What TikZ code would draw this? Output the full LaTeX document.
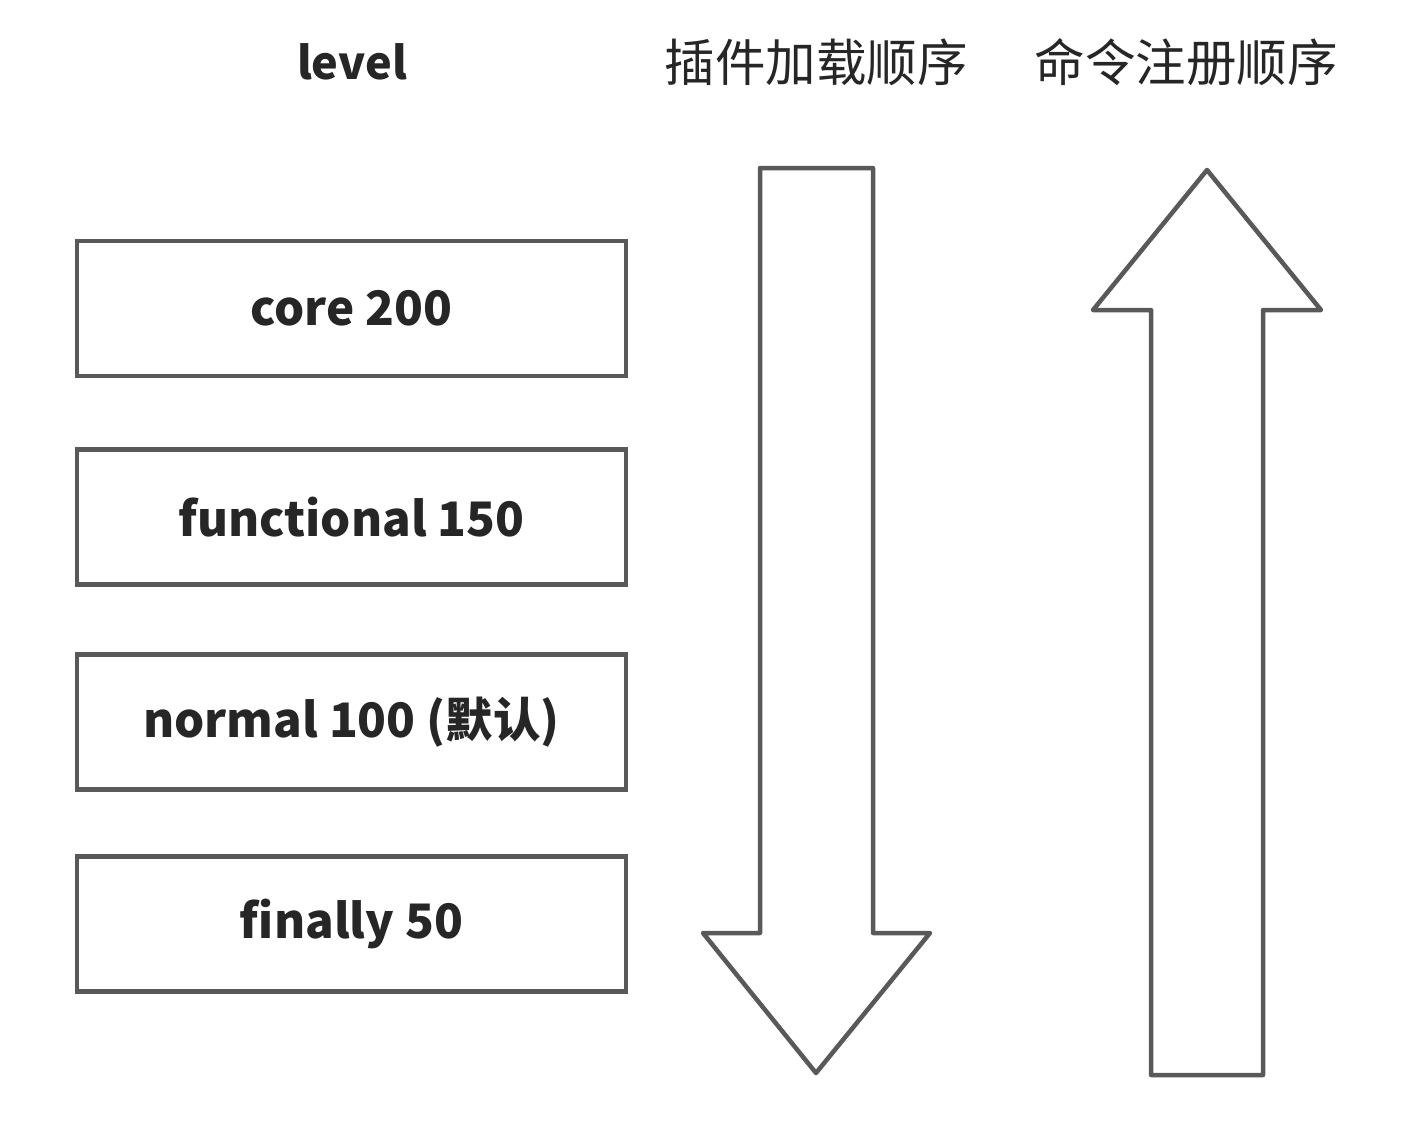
\documentclass[tikz,border=0pt]{standalone}
\usepackage{fontspec}
\setmainfont{Noto Sans CJK SC}
\definecolor{lg}{HTML}{595959}
\definecolor{tx}{HTML}{262626}
\begin{document}
\begin{tikzpicture}[x=1pt,y=-1pt,
  lvbox/.style={draw=lg,line width=4.5pt,minimum width=549pt,minimum height=135pt,inner sep=0pt,
    text=tx,font=\fontsize{47.5}{54}\selectfont\bfseries},
  title/.style={text=tx,inner sep=0pt},
  bigarrow/.style={draw=lg,line width=4.5pt,line join=round,fill=white}]
\useasboundingbox (0,0) rectangle (1406,1122);
\fill[white] (0,0) rectangle (1406,1122);
\node[title,font=\fontsize{45}{50}\selectfont\bfseries] (lvl) at (352,62) {level};
\node[title,font=\fontsize{50.5}{56}\selectfont] (load) at (816,62) {插件加载顺序};
\node[title,font=\fontsize{50.5}{56}\selectfont] (reg) at (1186,62) {命令注册顺序};
\node[lvbox] (core) at (351.5,308.5) {core 200};
\node[lvbox] (func) at (351.5,517) {functional 150};
\node[lvbox] (norm) at (351.5,722) {normal 100 (默认)};
\node[lvbox] (fin) at (351.5,924) {finally 50};
\draw[bigarrow] (760,168) -- (873,168) -- (873,933) -- (930,933) -- (816,1073)
  -- (703,933) -- (760,933) -- cycle;
\draw[bigarrow] (1207,170) -- (1321,310) -- (1263,310) -- (1263,1075) -- (1151,1075)
  -- (1151,310) -- (1093,310) -- cycle;
\end{tikzpicture}
\end{document}
